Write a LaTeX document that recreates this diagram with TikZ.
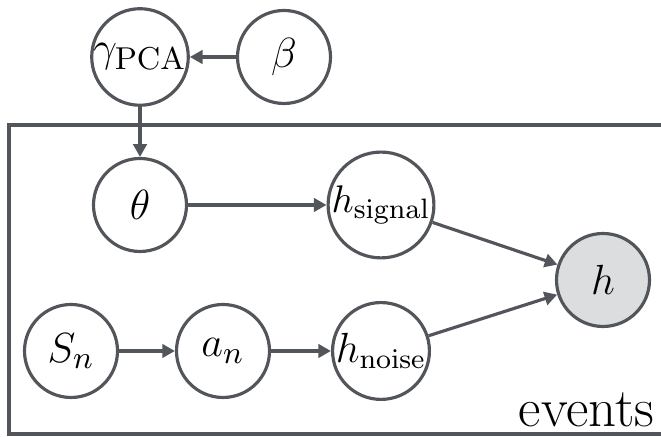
\documentclass[tikz,border=0pt]{standalone}
\usepackage{amsmath}
\usepackage{amssymb}
\usetikzlibrary{arrows.meta}

\definecolor{edgegray}{RGB}{82,86,91}
\definecolor{obsgray}{RGB}{220,221,223}

\begin{document}
\begin{tikzpicture}[
		var/.style={circle, draw=edgegray, line width=0.9pt, minimum size=0.93cm, inner sep=0pt,
			font=\fontsize{13.2}{15}\selectfont},
		obs/.style={var, fill=obsgray},
		edge/.style={draw=edgegray, line width=0.9pt, -{Triangle[length=3.6pt,width=3.8pt]}, color=edgegray},
	]
			\useasboundingbox (0,0) rectangle (6.61,4.37);
			% plate
			\draw[edgegray, line width=0.9pt] (6.8,3.12) -- (0.09,3.12) -- (0.09,0.03) -- (6.8,0.03);
			\node[anchor=base east, font=\fontsize{15.6}{18}\selectfont, inner sep=0pt] (plate) at (6.55,0.10) {events};
			% nodes
			\node[var, font=\fontsize{12.4}{14}\selectfont] (gamma) at (1.40,3.80) {$\gamma_{\mathrm{PCA}}$};
			\node[var] (beta) at (2.84,3.80) {$\beta$};
			\node[var] (theta) at (1.40,2.32) {$\theta$};
			\node[var, font=\fontsize{11}{13}\selectfont] (hsignal) at (3.81,2.32) {$h_{\mathrm{signal}}$};
			\node[obs] (h) at (6.03,1.57) {$h$};
			\node[var] (Sn) at (0.71,0.86) {$S_n$};
			\node[var] (an) at (2.23,0.86) {$a_n$};
			\node[var, font=\fontsize{11.6}{13}\selectfont] (hnoise) at (3.81,0.86) {$h_{\mathrm{noise}}$};
			% edges
			\draw[edge] (beta) -- (gamma);
			\draw[edge] (gamma) -- (theta);
			\draw[edge] (theta) -- (hsignal);
			\draw[edge] (hsignal) -- (h);
			\draw[edge] (Sn) -- (an);
			\draw[edge] (an) -- (hnoise);
			\draw[edge] (hnoise) -- (h);
		\end{tikzpicture}
\end{document}
